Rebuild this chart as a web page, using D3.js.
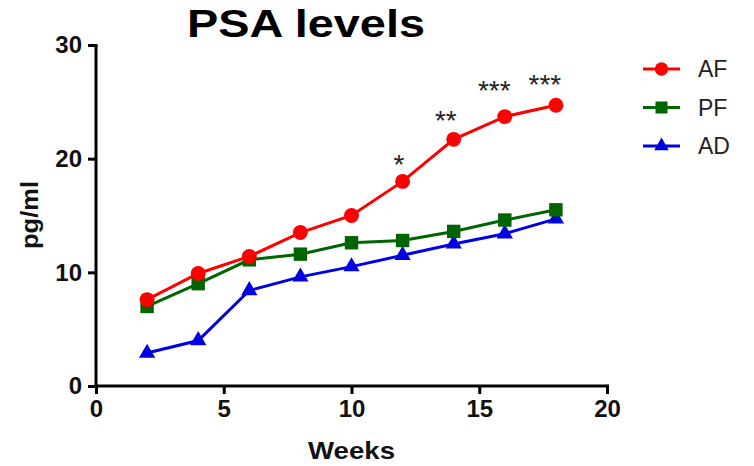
<!DOCTYPE html>
<html>
<head>
<meta charset="utf-8">
<script src="https://cdn.jsdelivr.net/npm/d3@7"></script>
<style>
  body { margin: 0; background: #fff; }
  svg { display: block; font-family: Arial, "Liberation Sans", sans-serif; }
</style>
</head>
<body>
<div id="chart"></div>
<script>
// data
const weeks = [2, 4, 6, 8, 10, 12, 14, 16, 18];
const afValues = [7.6, 9.9, 11.4, 13.5, 15.0, 18.0, 21.7, 23.7, 24.7];
const pfValues = [7.0, 9.0, 11.1, 11.6, 12.6, 12.8, 13.6, 14.6, 15.5];
const adValues = [2.9, 4.0, 8.4, 9.6, 10.5, 11.5, 12.5, 13.4, 14.7];
const seriesNames = ['AF', 'PF', 'AD'];
const xTicks = [0, 5, 10, 15, 20];
const yTicks = [0, 10, 20, 30];
// significance marks (week position, value position, label)
const starWeeks = [11.86, 13.69, 15.59, 17.57];
const starLevels = [20.0, 23.8, 26.5, 27.0];
const starLabels = ['*', '**', '***', '***'];

const width = 754, height = 466;
const grid = { left: 96, right: 147, top: 45, bottom: 80 };

const svg = d3.select('#chart').append('svg')
  .attr('width', width)
  .attr('height', height);

const x = d3.scaleLinear().domain([0, 20]).range([grid.left, width - grid.right]);
const y = d3.scaleLinear().domain([0, 30]).range([height - grid.bottom, grid.top]);

const series = [
  { name: seriesNames[0], values: afValues, color: '#ff0000', symbol: d3.symbolCircle, size: 175 },
  { name: seriesNames[1], values: pfValues, color: '#006400', symbol: d3.symbolSquare, size: 180 },
  { name: seriesNames[2], values: adValues, color: '#0000e0', symbol: d3.symbolTriangle, size: 115 }
];

// title (the source picture is a bit stretched sideways)
svg.append('text')
  .attr('x', 306)
  .attr('y', 37)
  .attr('text-anchor', 'middle')
  .attr('font-size', 38)
  .attr('font-weight', 'bold')
  .attr('textLength', 238)
  .attr('lengthAdjust', 'spacingAndGlyphs')
  .text('PSA levels');

// axes
const xAxis = svg.append('g')
  .attr('transform', `translate(0,${y(0)})`)
  .call(d3.axisBottom(x).tickValues(xTicks).tickSize(8).tickPadding(6).tickSizeOuter(0));
const yAxis = svg.append('g')
  .attr('transform', `translate(${x(0)},0)`)
  .call(d3.axisLeft(y).tickValues(yTicks).tickSize(8).tickPadding(6).tickSizeOuter(0));

[xAxis, yAxis].forEach(a => {
  a.select('.domain').attr('stroke', '#000').attr('stroke-width', 3);
  a.selectAll('.tick line').attr('stroke', '#000').attr('stroke-width', 3);
  a.selectAll('.tick text')
    .attr('fill', '#111')
    .attr('font-size', 24)
    .attr('font-weight', 'bold')
    .attr('font-family', 'Arial, "Liberation Sans", sans-serif');
});
// extend domain under the caps so corners meet
xAxis.select('.domain').attr('d', `M${x(0) - 1.5},0H${x(20)}`);
yAxis.select('.domain').attr('d', `M0,${y(30)}V${y(0) + 1.5}`);
xAxis.select('.tick:last-of-type line').attr('y1', -1.5);
yAxis.select('.tick:last-of-type line').attr('x1', 1.5);

// axis titles
svg.append('text')
  .attr('x', x(10))
  .attr('y', 459)
  .attr('text-anchor', 'middle')
  .attr('font-size', 24)
  .attr('font-weight', 'bold')
  .attr('fill', '#111')
  .attr('textLength', 87)
  .attr('lengthAdjust', 'spacingAndGlyphs')
  .text('Weeks');

svg.append('text')
  .attr('transform', `translate(38,215) rotate(-90)`)
  .attr('text-anchor', 'middle')
  .attr('font-size', 24)
  .attr('font-weight', 'bold')
  .attr('fill', '#111')
  .attr('textLength', 68)
  .attr('lengthAdjust', 'spacingAndGlyphs')
  .text('pg/ml');

// lines + markers
const line = d3.line()
  .x((d, i) => x(weeks[i]))
  .y(d => y(d));

series.forEach(s => {
  svg.append('path')
    .datum(s.values)
    .attr('d', line)
    .attr('fill', 'none')
    .attr('stroke', s.color)
    .attr('stroke-width', 3);
});

series.slice().reverse().forEach(s => {
  svg.append('g').selectAll('path')
    .data(s.values)
    .join('path')
    .attr('transform', (d, i) => `translate(${x(weeks[i])},${y(d)})`)
    .attr('d', d3.symbol().type(s.symbol).size(s.size))
    .attr('fill', s.color);
});

// significance stars
svg.append('g').selectAll('text')
  .data(starLabels)
  .join('text')
  .attr('x', (d, i) => x(starWeeks[i]))
  .attr('y', (d, i) => y(starLevels[i]) + 15)
  .attr('text-anchor', 'middle')
  .attr('font-size', 28)
  .attr('fill', '#222')
  .text(d => d);

// legend
const legend = svg.append('g').attr('transform', 'translate(643,69)');
series.forEach((s, i) => {
  const g = legend.append('g').attr('transform', `translate(0,${i * 38.5})`);
  g.append('line')
    .attr('x1', 0).attr('x2', 37)
    .attr('stroke', s.color)
    .attr('stroke-width', 3);
  g.append('path')
    .attr('transform', 'translate(18.5,0)')
    .attr('d', d3.symbol().type(s.symbol).size(s.size * 0.8))
    .attr('fill', s.color);
  g.append('text')
    .attr('x', 55)
    .attr('y', 8)
    .attr('font-size', 23)
    .attr('fill', '#222')
    .text(s.name);
});
</script>
</body>
</html>
